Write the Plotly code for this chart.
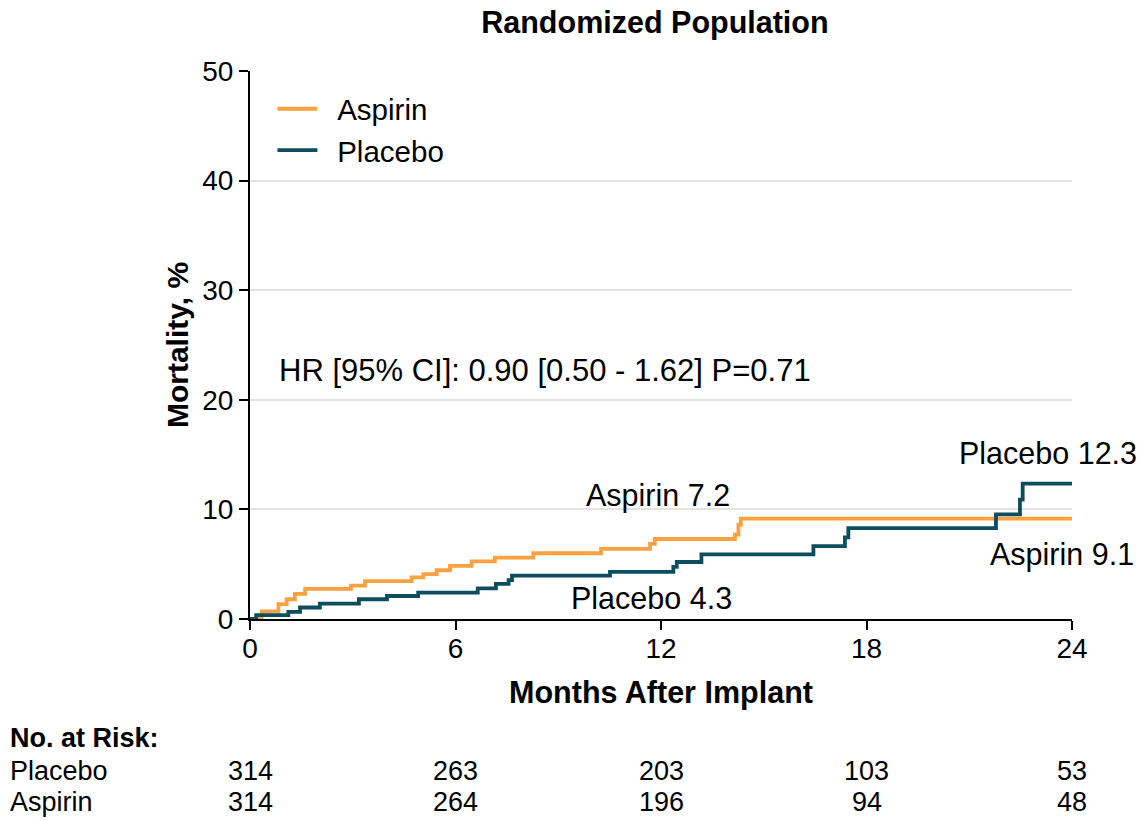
import plotly.graph_objects as go

# ---- data ----
aspirin_t = [0, 0.34, 0.83, 1.07, 1.31, 1.61, 2.95, 3.36, 4.72, 5.06, 5.45, 5.84,
             6.47, 7.15, 8.27, 10.25, 11.68, 11.82, 14.16, 14.26, 14.33, 24]
aspirin_y = [0, 0.7, 1.35, 1.8, 2.3, 2.75, 3.05, 3.45, 3.8, 4.1, 4.45, 4.85,
             5.25, 5.6, 6.0, 6.4, 6.85, 7.3, 7.7, 8.6, 9.15, 9.15]

placebo_t = [0, 0.18, 1.12, 1.46, 2.04, 3.18, 4.0, 4.91, 6.65, 7.18, 7.55, 7.65,
             10.51, 12.36, 12.46, 13.18, 16.45, 17.37, 17.47, 21.78, 22.48, 22.56, 24]
placebo_y = [0, 0.35, 0.65, 1.05, 1.4, 1.8, 2.1, 2.4, 2.8, 3.2, 3.55, 3.95,
             4.3, 4.75, 5.2, 5.9, 6.65, 7.45, 8.3, 9.55, 10.9, 12.35, 12.35]

risk_months = [0, 6, 12, 18, 24]
risk_placebo = [314, 263, 203, 103, 53]
risk_aspirin = [314, 264, 196, 94, 48]

x_ticks = [0, 6, 12, 18, 24]
y_ticks = [0, 10, 20, 30, 40, 50]

ORANGE = "#FBA140"
TEAL = "#0D4E5E"
FONT = "Liberation Sans, Arial, sans-serif"

fig = go.Figure()
fig.add_trace(go.Scatter(x=aspirin_t, y=aspirin_y, mode="lines", name="\u2002Aspirin",
                         line=dict(color=ORANGE, width=3.8, shape="hv")))
fig.add_trace(go.Scatter(x=placebo_t, y=placebo_y, mode="lines", name="\u2002Placebo",
                         line=dict(color=TEAL, width=3.8, shape="hv")))

ann = []
# curve labels
ann.append(dict(x=11.9, y=11.3, text="Aspirin 7.2", xref="x", yref="y", showarrow=False,
                xanchor="center", yanchor="middle", font=dict(size=30.5)))
ann.append(dict(x=11.72, y=1.95, text="Placebo 4.3", xref="x", yref="y", showarrow=False,
                xanchor="center", yanchor="middle", font=dict(size=30.5)))
ann.append(dict(x=23.3, y=15.15, text="Placebo 12.3", xref="x", yref="y", showarrow=False,
                xanchor="center", yanchor="middle", font=dict(size=30.5)))
ann.append(dict(x=23.7, y=5.85, text="Aspirin 9.1", xref="x", yref="y", showarrow=False,
                xanchor="center", yanchor="middle", font=dict(size=30.5)))
ann.append(dict(x=0.8, y=22.7, text="HR [95% CI]: 0.90 [0.50 - 1.62] P=0.71", xref="x", yref="y",
                showarrow=False, xanchor="left", yanchor="middle", font=dict(size=31)))

# risk table
ann.append(dict(x=-0.294, y=-0.217, text="<b>No. at Risk:</b>", xref="paper", yref="paper",
                showarrow=False, xanchor="left", yanchor="middle", font=dict(size=27)))
ann.append(dict(x=-0.294, y=-0.277, text="Placebo", xref="paper", yref="paper",
                showarrow=False, xanchor="left", yanchor="middle", font=dict(size=27)))
ann.append(dict(x=-0.294, y=-0.334, text="Aspirin", xref="paper", yref="paper",
                showarrow=False, xanchor="left", yanchor="middle", font=dict(size=27)))
for m, p, a in zip(risk_months, risk_placebo, risk_aspirin):
    ann.append(dict(x=m, y=-0.277, text=str(p), xref="x", yref="paper", showarrow=False,
                    xanchor="center", yanchor="middle", font=dict(size=27)))
    ann.append(dict(x=m, y=-0.334, text=str(a), xref="x", yref="paper", showarrow=False,
                    xanchor="center", yanchor="middle", font=dict(size=27)))

fig.update_layout(
    width=1143, height=821,
    margin=dict(l=250, r=71, t=71, b=202),
    paper_bgcolor="white", plot_bgcolor="white",
    font=dict(family=FONT, size=28, color="black"),
    title=dict(text="<b>Randomized Population</b>", x=0.573, xanchor="center",
               y=0.973, yanchor="middle", font=dict(size=30.5)),
    showlegend=True,
    legend=dict(x=0.0273, y=0.978, xanchor="left", yanchor="top", bgcolor="rgba(0,0,0,0)",
                font=dict(size=29.5), itemwidth=40, tracegroupgap=0),
    annotations=ann,
)
fig.update_xaxes(range=[0, 24], tickvals=x_ticks, ticktext=[str(v) for v in x_ticks],
                 showline=True, linecolor="black", linewidth=2, ticks="outside",
                 ticklen=9, tickwidth=2, tickcolor="black", showgrid=False, zeroline=False,
                 ticklabelstandoff=-6,
                 title=dict(text="<b>Months After Implant</b>", standoff=19, font=dict(size=30.5)),
                 tickfont=dict(size=28))
fig.update_yaxes(range=[0, 50], tickvals=y_ticks, ticktext=[str(v) for v in y_ticks],
                 showline=True, linecolor="black", linewidth=2, ticks="outside",
                 ticklen=9, tickwidth=2, tickcolor="black", showgrid=True,
                 gridcolor="#E3E3E3", gridwidth=1.5, zeroline=False,
                 title=dict(text="<b>Mortality, %</b>", standoff=5, font=dict(size=30)),
                 tickfont=dict(size=28))

fig.write_html("out.html")
